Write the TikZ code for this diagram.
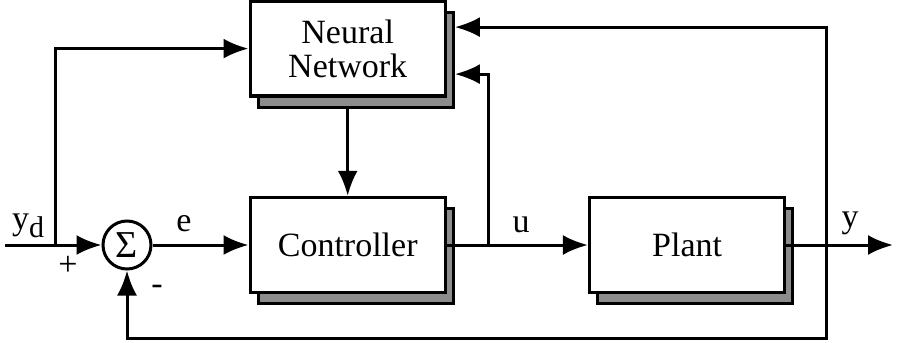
\documentclass[tikz,border=0pt]{standalone}
\usepackage{fontspec}
\setmainfont{Liberation Serif}
\usetikzlibrary{arrows.meta,positioning,shadows}
\definecolor{shadegray}{RGB}{140,140,140}

\begin{document}
\begin{tikzpicture}[x=0.5pt, y=-0.5pt, line width=1.5pt,
    every node/.style={font=\fontsize{17}{19}\selectfont},
    block/.style={draw, fill=white, line width=1.7pt, minimum width=97.5pt, minimum height=47.5pt, align=center,
      copy shadow={shadow xshift=4pt, shadow yshift=-5.5pt, fill=shadegray, draw=black, line width=1.4pt}},
    sumnode/.style={draw, circle, fill=white, minimum size=24pt, inner sep=0pt},
    sig/.style={-{Latex[length=12.5pt,width=10pt]}}]
  \useasboundingbox (0,0) rectangle (901,343);
  \node[sumnode] (sum) at (127,245) {\fontsize{19}{19}\selectfont Σ};
  \node[block, right=48pt of sum] (ctrl) {Controller};
  \node[block, above=49pt of ctrl] (nn) {Neural\\[-2pt]Network};
  \node[block, right=70.5pt of ctrl] (plant) {Plant};
  \coordinate (ydin) at (5,245);
  \coordinate (br) at (55,245);
  \coordinate (ujn) at (488,245);
  \coordinate (fb) at (826,245);
  \coordinate (low) at (826,338);
  \coordinate (yend) at (893,245);
  \node (ydlab) at (28,226) {y\raisebox{-4pt}{\fontsize{15}{16}\selectfont d}};
  \node (plus) at (68,266) {+};
  \node (minus) at (157,290) {-};
  \node (elab) at (184,224) {e};
  \node (ulab) at (521,225) {u};
  \node (ylab) at (850,223) {y};
  \draw[sig] (ydin) -- (sum.west);
  \draw[sig] (br) |- (nn.west);
  \draw[sig] (sum.east) -- (ctrl.west);
  \draw[sig, shorten <=5.5pt] (nn.south) -- (ctrl.north);
  \draw[sig] (ctrl.east) -- (plant.west);
  \draw[sig] (plant.east) -- (yend);
  \draw[sig, shorten >=4pt] (ujn) |- ([yshift=-12.75pt]nn.east);
  \draw[sig, shorten >=4pt] (fb) |- ([yshift=10.75pt]nn.east);
  \draw[sig] (fb) -- (low) -| (sum.south);
\end{tikzpicture}
\end{document}
